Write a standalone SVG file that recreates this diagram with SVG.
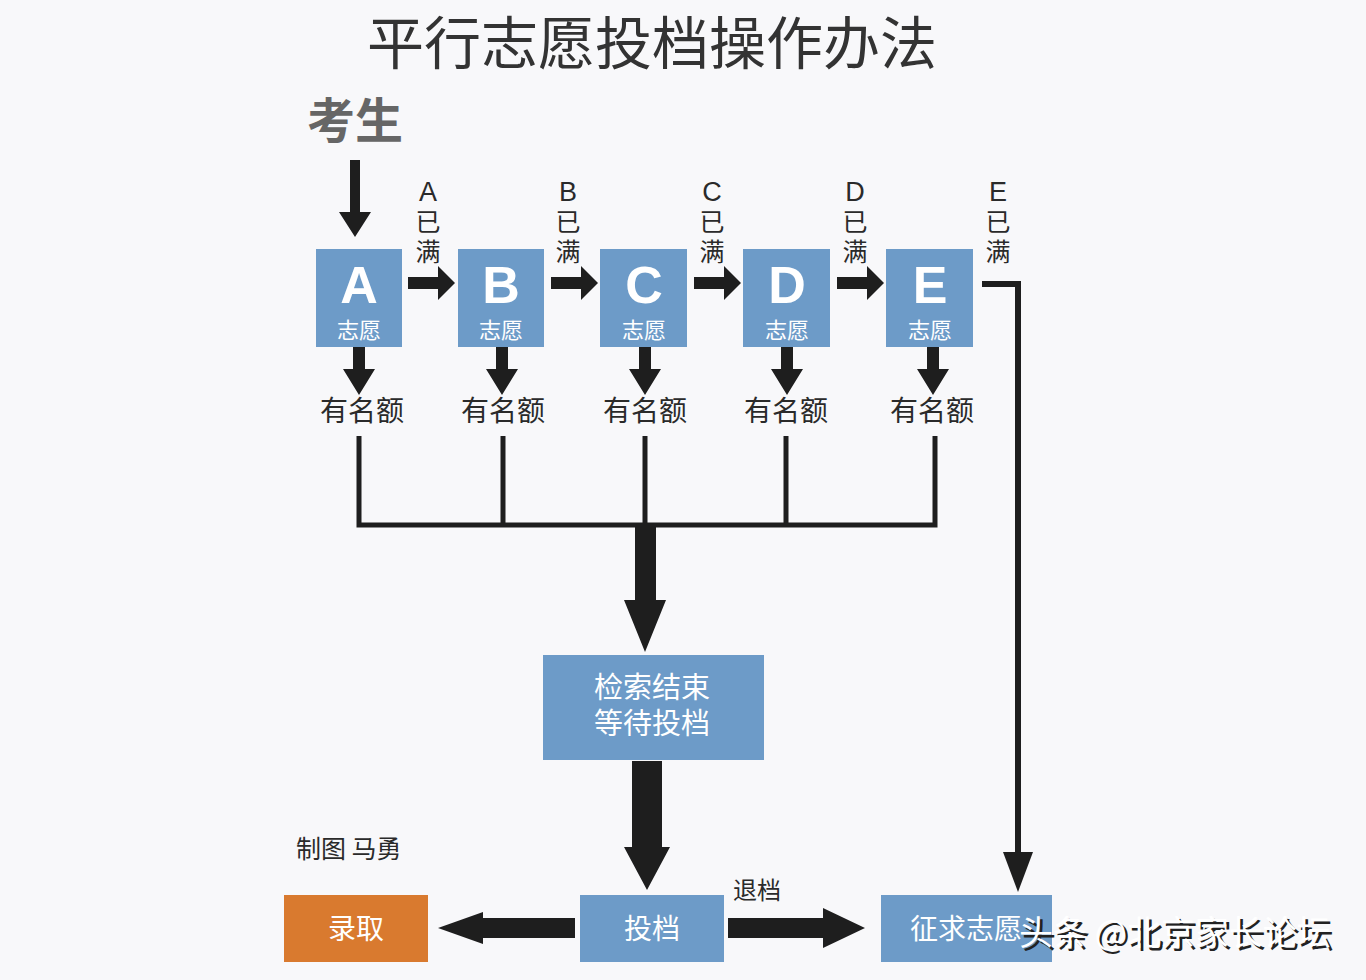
<svg xmlns="http://www.w3.org/2000/svg" width="1366" height="980" viewBox="0 0 1366 980">
<defs>
<style>
.cjk{font-family:"Noto Sans CJK SC","Noto Sans",sans-serif}
.box{fill:#6d9bc8}
.wt{fill:#ffffff}
.dk{fill:#1e1e1e}
.ln{stroke:#1e1e1e;fill:none}
.big{font-family:"Liberation Sans",sans-serif;font-weight:bold;font-size:52px;fill:#ffffff;text-anchor:middle}
.sub{font-family:"Noto Sans CJK SC","Noto Sans",sans-serif;font-size:22px;fill:#ffffff;text-anchor:middle}
</style>
</defs>
<rect width="1366" height="980" fill="#f8f8fa"/>
<text class="cjk" x="652" y="64" font-size="57" fill="#333" text-anchor="middle">平行志愿投档操作办法</text>
<text class="cjk" x="355" y="138" font-size="48" font-weight="bold" fill="#666" text-anchor="middle">考生</text>

<g id="connectors">
  <path class="dk" d="M350,160 h10 v52 h11 l-16,25 l-16,-25 h11 z"/>
  <path class="dk" d="M408,277 h30 v-11 l17,17 l-17,17 v-11 h-30 z"/>
  <path class="dk" d="M551,277 h30 v-11 l17,17 l-17,17 v-11 h-30 z"/>
  <path class="dk" d="M694,277 h30 v-11 l17,17 l-17,17 v-11 h-30 z"/>
  <path class="dk" d="M837,277 h30 v-11 l17,17 l-17,17 v-11 h-30 z"/>
  <polyline class="ln" stroke-width="6" points="982,284 1018,284 1018,855"/>
  <path class="dk" d="M1003,852 h30 l-15,40 z"/>
  <path class="dk" d="M353,347 h12 v22 h10 l-16,26 l-16,-26 h10 z"/>
  <path class="dk" d="M496,347 h12 v22 h10 l-16,26 l-16,-26 h10 z"/>
  <path class="dk" d="M639,347 h12 v22 h10 l-16,26 l-16,-26 h10 z"/>
  <path class="dk" d="M781,347 h12 v22 h10 l-16,26 l-16,-26 h10 z"/>
  <path class="dk" d="M927,347 h12 v22 h10 l-16,26 l-16,-26 h10 z"/>
  <path class="ln" stroke-width="5" d="M359,436 V525 M503,436 V525 M645,436 V525 M786,436 V525 M935,436 V525 M356.5,525 H937.5"/>
  <path class="dk" d="M635,525 h21 v75 h10 l-21,52 l-21,-52 h11 z"/>
  <path class="dk" d="M632,761 h30 v86 h8 l-23,43 l-23,-43 h8 z"/>
  <path class="dk" d="M575,918 h-92 v-6 l-45,16 l45,16 v-6 h92 z"/>
  <path class="dk" d="M728,918 h95 v-10 l42,20 l-42,20 v-10 h-95 z"/>
</g>

<g id="labels-full" class="cjk" font-size="25" fill="#2a2a2a" text-anchor="middle">
  <g><text x="428" y="201" font-family="Liberation Sans,sans-serif" font-size="27">A</text><text x="428" y="231">已</text><text x="428" y="261">满</text></g>
  <g><text x="568" y="201" font-family="Liberation Sans,sans-serif" font-size="27">B</text><text x="568" y="231">已</text><text x="568" y="261">满</text></g>
  <g><text x="712" y="201" font-family="Liberation Sans,sans-serif" font-size="27">C</text><text x="712" y="231">已</text><text x="712" y="261">满</text></g>
  <g><text x="855" y="201" font-family="Liberation Sans,sans-serif" font-size="27">D</text><text x="855" y="231">已</text><text x="855" y="261">满</text></g>
  <g><text x="998" y="201" font-family="Liberation Sans,sans-serif" font-size="27">E</text><text x="998" y="231">已</text><text x="998" y="261">满</text></g>
</g>

<g id="node-A"><rect class="box" x="316" y="249" width="86" height="98"/><text class="big" x="359" y="303">A</text><text class="sub" x="359" y="338">志愿</text></g>
<g id="node-B"><rect class="box" x="458" y="249" width="86" height="98"/><text class="big" x="501" y="303">B</text><text class="sub" x="501" y="338">志愿</text></g>
<g id="node-C"><rect class="box" x="600" y="249" width="87" height="98"/><text class="big" x="644" y="303">C</text><text class="sub" x="644" y="338">志愿</text></g>
<g id="node-D"><rect class="box" x="743" y="249" width="87" height="98"/><text class="big" x="787" y="303">D</text><text class="sub" x="787" y="338">志愿</text></g>
<g id="node-E"><rect class="box" x="886" y="249" width="87" height="98"/><text class="big" x="930" y="303">E</text><text class="sub" x="930" y="338">志愿</text></g>

<g id="quota" class="cjk" font-size="28" fill="#2a2a2a" text-anchor="middle">
  <text x="362" y="421">有名额</text>
  <text x="503" y="421">有名额</text>
  <text x="645" y="421">有名额</text>
  <text x="786" y="421">有名额</text>
  <text x="932" y="421">有名额</text>
</g>

<g id="node-search"><rect class="box" x="543" y="655" width="221" height="105"/><text class="cjk wt" x="652" y="698" font-size="29" text-anchor="middle">检索结束</text><text class="cjk wt" x="652" y="734" font-size="29" text-anchor="middle">等待投档</text></g>
<g id="node-toudang"><rect class="box" x="580" y="895" width="144" height="67"/><text class="cjk wt" x="652" y="939" font-size="28" text-anchor="middle">投档</text></g>
<g id="node-luqu"><rect x="284" y="895" width="144" height="67" fill="#d97a2f"/><text class="cjk wt" x="356" y="939" font-size="28" text-anchor="middle">录取</text></g>
<g id="node-zhengqiu"><rect class="box" x="881" y="895" width="171" height="67"/><text class="cjk wt" x="966" y="939" font-size="28" text-anchor="middle">征求志愿</text></g>

<text class="cjk" x="296" y="858" font-size="25" fill="#2a2a2a">制图 马勇</text>
<text class="cjk" x="757" y="899" font-size="24" fill="#2a2a2a" text-anchor="middle">退档</text>

<g id="watermark" class="cjk" font-size="34">
  <text x="1022" y="948" fill="#222">头条 @北京家长论坛</text>
  <text x="1019" y="945" fill="#ffffff">头条 @北京家长论坛</text>
</g>
</svg>
